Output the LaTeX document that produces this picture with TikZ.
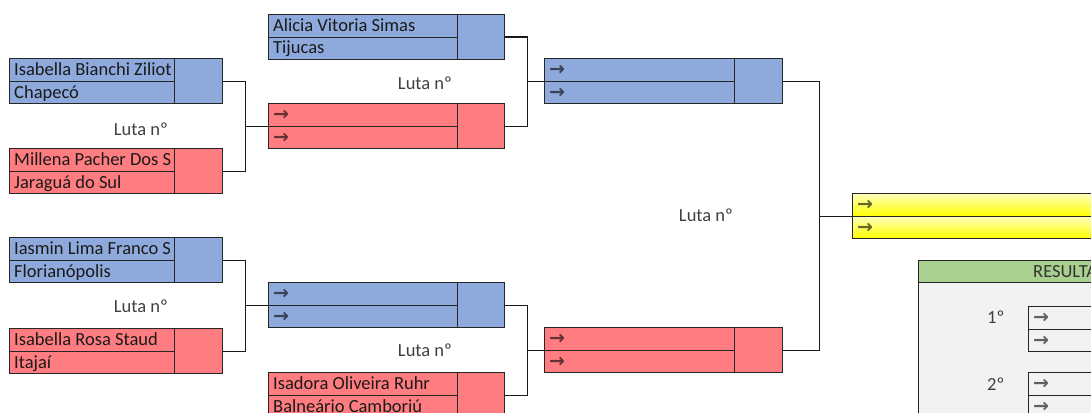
\documentclass[tikz,border=0pt]{standalone}
\usepackage{fontspec}
\setmainfont{Carlito}
\newfontfamily\arrfont{DejaVu Sans}
\usetikzlibrary{calc}
\definecolor{cblue}{HTML}{8EA9DB}
\definecolor{cred}{HTML}{FF7C80}
\definecolor{cgreen}{HTML}{A9D08E}
\definecolor{cbody}{HTML}{F2F2F2}
\definecolor{ctext}{HTML}{1A1A1A}
\definecolor{cgray}{HTML}{404040}
\tikzset{
  boxframe/.style={draw=black!85, line width=1.2pt, rectangle, inner sep=0pt, minimum height=45pt},
  inner/.style={draw=black!85, line width=1.1pt},
  conn/.style={draw=black!90, line width=1.2pt, line join=miter},
  nametext/.style={anchor=base west, inner sep=0pt, font=\fontsize{18.5}{20}\selectfont, text=ctext},
  arrtext/.style={anchor=base west, inner sep=0pt, font=\arrfont\bfseries\fontsize{19}{20}\selectfont, text=black, text opacity=0.6},
  lutalabel/.style={inner sep=0pt, font=\fontsize{18.5}{20}\selectfont, text=cgray},
}
% #1 name, #2 x, #3 y, #4 width, #5 score width, #6 fill, #7 line 1, #8 line 2, #9 text style
\newcommand\lutabox[9]{%
  \node[boxframe, fill=#6, minimum width=#4pt, anchor=north west] (#1) at (#2,#3) {};
  \draw[inner] (#1.west) -- ($(#1.east)+(-#5,0)$);
  \draw[inner] ($(#1.north east)+(-#5,0)$) -- ($(#1.south east)+(-#5,0)$);
  \begin{scope}
    \clip ($(#1.north west)$) rectangle ($(#1.south east)+(-#5,0)$);
    \node[#9] (#1-t1) at ($(#1.north west)+(5,17.5)$) {#7};
    \node[#9] (#1-t2) at ($(#1.north west)+(5,40)$) {#8};
  \end{scope}
}
\begin{document}
\begin{tikzpicture}[x=1pt,y=-1pt]
\useasboundingbox (0,0) rectangle (1091,412);
\clip (0,0) rectangle (1091,412);

% Round 1
\lutabox{A}{9}{58}{213}{49}{cblue}{Isabella Bianchi Ziliot}{Chapecó}{nametext}
\lutabox{B}{9}{148}{213}{49}{cred}{Millena Pacher Dos S}{Jaraguá do Sul}{nametext}
\lutabox{G}{9}{237}{213}{49}{cblue}{Iasmin Lima Franco S}{Florianópolis}{nametext}
\lutabox{H}{9}{328}{213}{49}{cred}{Isabella Rosa Staud}{Itajaí}{nametext}

% Round 2
\lutabox{C}{268}{14}{236}{48}{cblue}{Alicia Vitoria Simas}{Tijucas}{nametext}
\lutabox{D}{268}{103}{236}{48}{cred}{→}{→}{arrtext}
\lutabox{I}{268}{282}{236}{48}{cblue}{→}{→}{arrtext}
\lutabox{J}{268}{372}{236}{48}{cred}{Isadora Oliveira Ruhr}{Balneário Camboriú}{nametext}

% Round 3
\lutabox{E}{544}{58}{238}{49}{cblue}{→}{→}{arrtext}
\lutabox{F}{544}{327}{238}{49}{cred}{→}{→}{arrtext}

% Final
\shade[top color=yellow!25!white, bottom color=yellow] (852,193) rectangle (1100,216);
\shade[top color=yellow!25!white, bottom color=yellow] (852,216) rectangle (1100,238);
\node[boxframe, minimum width=248pt, anchor=north west] (Y) at (852,193) {};
\draw[inner] (Y.west) -- (Y.east);
\node[arrtext] (Y-t1) at ($(Y.north west)+(5,17.5)$) {→};
\node[arrtext] (Y-t2) at ($(Y.north west)+(5,40)$) {→};

% Connectors
\draw[conn] (A.east) -- ++(22,0) coordinate (k1) |- (B.east);
\draw[conn] (D.west) -- (D.west -| k1);
\draw[conn] (G.east) -- ++(22,0) coordinate (k2) |- (H.east);
\draw[conn] (I.west) -- (I.west -| k2);
\draw[conn] (C.east) -- ++(22,0) coordinate (k3) |- (D.east);
\draw[conn] (E.west) -- (E.west -| k3);
\draw[conn] (I.east) -- ++(22,0) coordinate (k4) |- (J.east);
\draw[conn] (F.west) -- (F.west -| k4);
\draw[conn] (E.east) -- ++(36,0) coordinate (k5) |- (F.east);
\draw[conn] (Y.west) -- (Y.west -| k5);

% Luta labels
\node[lutalabel] (L1) at (141,129) {Luta nº};
\node[lutalabel] (L2) at (141,306) {Luta nº};
\node[lutalabel] (L3) at (425,83) {Luta nº};
\node[lutalabel] (L4) at (425,350) {Luta nº};
\node[lutalabel] (L5) at (706,215) {Luta nº};

% Results panel
\node[draw=black!85, line width=1.2pt, fill=cbody, minimum width=200pt, minimum height=160pt, anchor=north west, inner sep=0pt] (R) at (918,282) {};
\node[draw=black!85, line width=1.2pt, fill=cgreen, minimum width=200pt, minimum height=22pt, anchor=north west, inner sep=0pt] (RH) at (918,260) {};
\node[nametext, text=black!80] (RT) at (1033,277) {RESULTADO};
\node[lutalabel, anchor=base west] (P1) at (987,323) {1º};
\node[lutalabel, anchor=base west] (P2) at (987,390) {2º};
\node[draw=black!85, line width=1.1pt, minimum width=90pt, minimum height=45pt, anchor=north west, inner sep=0pt] (R1) at (1028,306) {};
\draw[inner] (R1.west) -- (R1.east);
\node[arrtext] at ($(R1.north west)+(5,17.5)$) {→};
\node[arrtext] at ($(R1.north west)+(5,40)$) {→};
\node[draw=black!85, line width=1.1pt, minimum width=90pt, minimum height=45pt, anchor=north west, inner sep=0pt] (R2) at (1028,372) {};
\draw[inner] (R2.west) -- (R2.east);
\node[arrtext] at ($(R2.north west)+(5,17.5)$) {→};
\node[arrtext] at ($(R2.north west)+(5,40)$) {→};
\end{tikzpicture}
\end{document}
